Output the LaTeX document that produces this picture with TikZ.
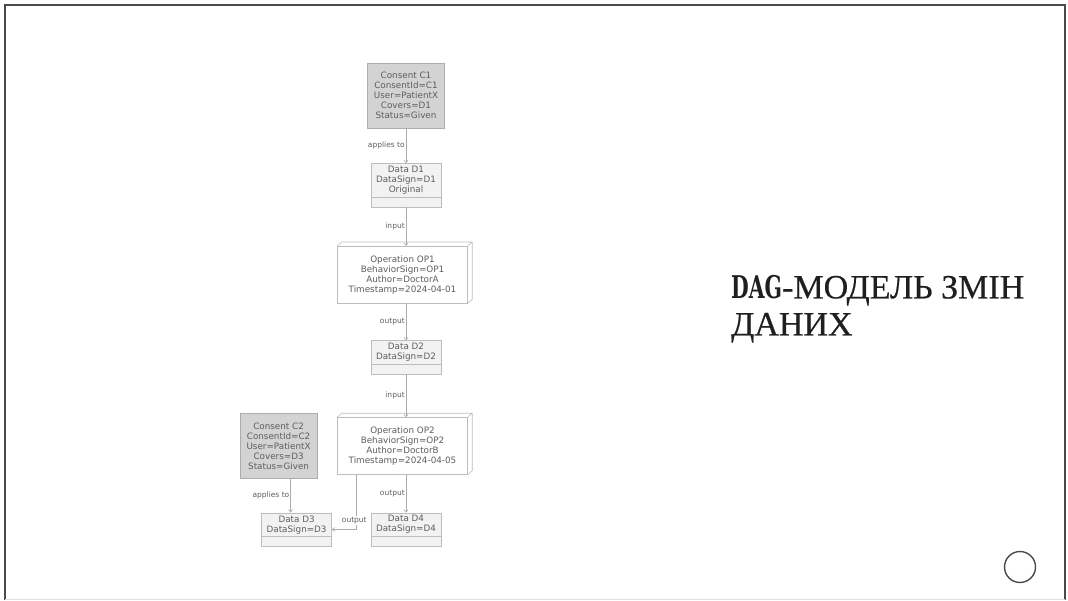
\documentclass[tikz,border=0pt]{standalone}
\usepackage{fontspec}
\setsansfont{DejaVu Sans}
\newfontfamily\titlefont[FakeBold=0.5]{Liberation Serif}
\newfontfamily\dagfont{DejaVu Serif}
\usepackage{tikz}
\usetikzlibrary{arrows.meta,positioning,shapes.multipart}
\definecolor{DagFrame}{HTML}{4A4A4A}
\definecolor{DagLine}{HTML}{ABABAB}
\definecolor{DagText}{HTML}{5E5E5E}
\definecolor{ConsentFill}{HTML}{D3D3D3}
\definecolor{ConsentEdge}{HTML}{ADADAD}
\definecolor{DataFill}{HTML}{F2F2F2}
\definecolor{DataEdge}{HTML}{BDBDBD}
\definecolor{OpEdge}{HTML}{BDBDBD}
\definecolor{TitleInk}{HTML}{1F1F1F}

\begin{document}
\begin{tikzpicture}[x=1pt, y=-1pt, node distance=38pt,
  every node/.style={font=\sffamily\fontsize{8.8}{10}\selectfont, text=DagText, align=center},
  consent/.style={draw=ConsentEdge, fill=ConsentFill, minimum width=77pt, minimum height=65pt, inner sep=2pt},
  datarec/.style={draw=DataEdge, fill=DataFill, rectangle split, rectangle split parts=2, rectangle split empty part height=4pt, rectangle split empty part depth=0pt, minimum width=70pt, inner ysep=2.5pt},
  opbox/.style={draw=OpEdge, fill=white, minimum width=130pt, minimum height=57pt, inner sep=2pt,
    append after command={\pgfextra{\draw[draw=OpEdge, line width=0.6pt] ([shift={(4.5pt,4pt)}]\tikzlastnode.north west) -- ([shift={(4.5pt,4pt)}]\tikzlastnode.north east) -- ([shift={(4.5pt,4pt)}]\tikzlastnode.south east) -- (\tikzlastnode.south east) (\tikzlastnode.north west) -- ++(4.5pt,4pt) (\tikzlastnode.north east) -- ++(4.5pt,4pt);}}},
  link/.style={draw=DagLine, line width=0.6pt, -{Straight Barb[length=2.5pt,width=4pt]}},
  linklabel/.style={font=\sffamily\fontsize{7.5}{8}\selectfont, inner sep=1pt}]
\useasboundingbox (0,0) rectangle (1068,601);
% slide frame
\draw[DagFrame, line width=2pt] (5,600) -- (5,5) -- (1065,5) -- (1065,600);
\draw[gray!25, line width=1pt] (5,599) -- (1065,599);
% main chain
\node[consent] (C1) at (406,95.5) {Consent C1\\ConsentId=C1\\User=PatientX\\Covers=D1\\Status=Given};
\node[datarec, below=35pt of C1] (D1) {Data D1\\DataSign=D1\\Original\nodepart{two}};
\node[opbox, below=39pt of D1, xshift=-3.5pt] (OP1) {Operation OP1\\BehaviorSign=OP1\\Author=DoctorA\\Timestamp=2024-04-01};
\node[datarec, below=37pt of OP1, xshift=3.5pt] (D2) {Data D2\\DataSign=D2\nodepart{two}};
\node[opbox, below=43pt of D2, xshift=-3.5pt] (OP2) {Operation OP2\\BehaviorSign=OP2\\Author=DoctorB\\Timestamp=2024-04-05};
\node[datarec, below=38pt of OP2, xshift=3.5pt] (D4) {Data D4\\DataSign=D4\nodepart{two}};
\node[consent, left=20pt of OP2] (C2) {Consent C2\\ConsentId=C2\\User=PatientX\\Covers=D3\\Status=Given};
\node[datarec, left=39pt of D4] (D3) {Data D3\\DataSign=D3\nodepart{two}};
\draw[link] (C1) -- (D1) node[linklabel, midway, left] {applies to};
\draw[link] (D1) -- (D1.south |- OP1.north) node[linklabel, midway, left] {input};
\draw[link] (D2.north |- OP1.south) -- (D2) node[linklabel, midway, left] {output};
\draw[link] (D2) -- (D2.south |- OP2.north) node[linklabel, midway, left] {input};
\draw[link] (OP2.south -| D4.north) -- (D4) node[linklabel, midway, left] {output};
\draw[link] ([xshift=-6pt]D3.north |- C2.south) -- ([xshift=-6pt]D3.north) node[linklabel, midway, left] {applies to};
\draw[link] ([xshift=19pt]OP2.south west) |- (D3) node[linklabel, pos=0.5, anchor=south, xshift=-2pt, yshift=4pt, fill=white] {output};
% title
\node[anchor=north west, inner sep=0pt, align=left, text=TitleInk, font=\titlefont\fontsize{34}{37}\selectfont] (title) at (731,275) {{\dagfont\bfseries\scalebox{0.6}[0.92]{DAG}}-МОДЕЛЬ ЗМІН\\ДАНИХ};
\node[draw=DagFrame, circle, line width=1.4pt, minimum size=31pt, inner sep=0pt] (navring) at (1020,567) {};
\end{tikzpicture}
\end{document}
